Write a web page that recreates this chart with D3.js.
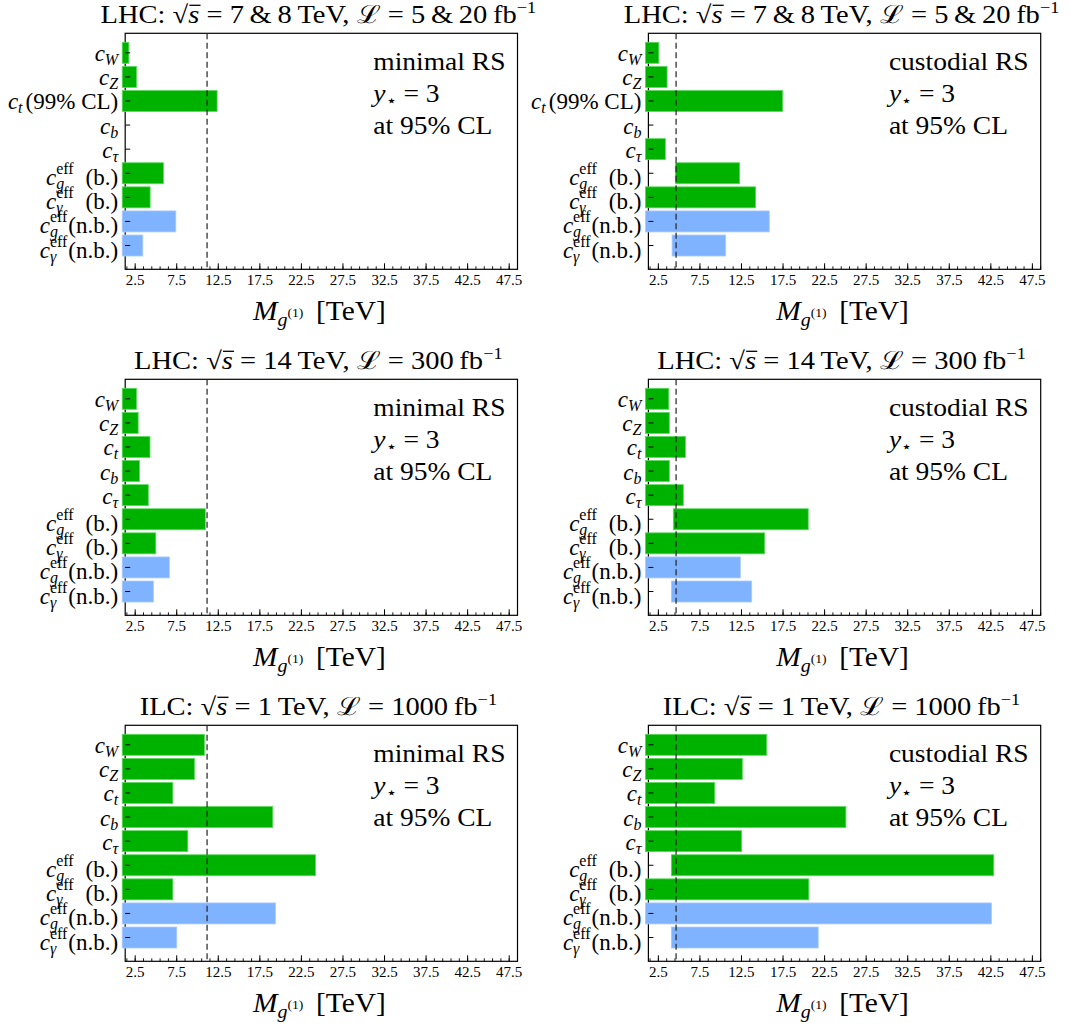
<!DOCTYPE html>
<html>
<head>
<meta charset="utf-8">
<script src="https://cdn.jsdelivr.net/npm/d3@7"></script>
<style>
  html, body { margin: 0; padding: 0; background: #fff; }
  svg { display: block; }
  text { font-family: "Liberation Serif", serif; fill: #000; white-space: pre; }
</style>
</head>
<body>
<svg id="chart" width="1069" height="1024"></svg>
<script>
// Coupling categories, top to bottom
const categories = ["cW", "cZ", "ct", "cb", "ctau", "cg_b", "cgamma_b", "cg_nb", "cgamma_nb"];
// true = bound with boundary terms (green), false = without (blue)
const boundaryTerms = [true, true, true, true, true, true, true, false, false];

// Axis ticks (TeV)
const majorTicks = [2.5, 7.5, 12.5, 17.5, 22.5, 27.5, 32.5, 37.5, 42.5, 47.5];
const minorTicks = d3.range(1.5, 48.6, 1);
const xDomain = [1.3, 48.5];
const barBase = 0.94;

// Reference lines: current direct bound on the KK gluon mass
const refMinimal = 11.15;
const refCustodial = 4.63;

// Reach in M_g(1) [TeV]; null = no sensitivity. lo = null means the bar starts at the base.
const lhc78MinimalHi   = [1.74, 2.66, 12.36, null, null, 5.90, 4.30, 7.39, 3.42];
const lhc78MinimalLo   = [null, null, null, null, null, null, null, null, null];
const lhc78CustodialHi = [2.55, 3.55, 17.45, null, 3.34, 12.28, 14.20, 15.84, 10.60];
const lhc78CustodialLo = [null, null, null, null, null, 4.54, null, null, 4.15];

const lhc14MinimalHi   = [2.66, 2.86, 4.28, 3.02, 4.08, 10.94, 4.98, 6.61, 4.69];
const lhc14MinimalLo   = [null, null, null, null, null, null, null, null, null];
const lhc14CustodialHi = [3.75, 3.82, 5.75, 3.82, 5.50, 20.53, 15.29, 12.36, 13.73];
const lhc14CustodialLo = [null, null, null, null, null, 4.30, null, null, 4.06];

const ilcMinimalHi     = [10.83, 9.63, 7.03, 19.05, 8.83, 24.20, 7.03, 19.37, 7.50];
const ilcMinimalLo     = [null, null, null, null, null, null, null, null, null];
const ilcCustodialHi   = [15.53, 12.60, 9.28, 25.06, 12.52, 42.85, 20.60, 42.57, 21.73];
const ilcCustodialLo   = [null, null, null, null, null, 4.06, null, null, 4.06];

const titles78 = { energy: "7\u2009&\u20098", lumi: "5\u2009&\u200920", collider: "LHC" };
const titles14 = { energy: "14", lumi: "300", collider: "LHC" };
const titlesIlc = { energy: "1", lumi: "1000", collider: "ILC" };

const panels = [
  { row: 0, col: 0, t: titles78, hi: lhc78MinimalHi, lo: lhc78MinimalLo, ref: refMinimal, model: "minimal RS", ct99: true },
  { row: 0, col: 1, t: titles78, hi: lhc78CustodialHi, lo: lhc78CustodialLo, ref: refCustodial, model: "custodial RS", ct99: true },
  { row: 1, col: 0, t: titles14, hi: lhc14MinimalHi, lo: lhc14MinimalLo, ref: refMinimal, model: "minimal RS", ct99: false },
  { row: 1, col: 1, t: titles14, hi: lhc14CustodialHi, lo: lhc14CustodialLo, ref: refCustodial, model: "custodial RS", ct99: false },
  { row: 2, col: 0, t: titlesIlc, hi: ilcMinimalHi, lo: ilcMinimalLo, ref: refMinimal, model: "minimal RS", ct99: false },
  { row: 2, col: 1, t: titlesIlc, hi: ilcCustodialHi, lo: ilcCustodialLo, ref: refCustodial, model: "custodial RS", ct99: false }
];

const GREEN = "#00b200", GREEN_EDGE = "#5ed85e";
const BLUE = "#80b3ff", BLUE_EDGE = "#a9cbff";
const FONT = "Liberation Serif";

const frameW = 392.3, frameH = 236;
const frameX = [125.2, 648.4];
const frameY = [33.3, 379.3, 725.3];

const svg = d3.select("#chart");

// Lays out a run of text pieces left to right (with sub/superscripts),
// stretched horizontally by k, then anchored at x.
function rich(parent, pieces, x, y, anchor, k) {
  k = k || 1;
  const g = parent.append("g");
  let cx = 0, prevStart = 0, prevW = 0;
  const lines = [];
  pieces.forEach(p => {
    if (p.gap) { cx += p.gap; }
    if (p.t === undefined) return;
    let start = p.stack ? prevStart : cx;
    const t = g.append("text")
      .attr("x", start)
      .attr("y", p.dy || 0)
      .attr("font-family", FONT)
      .style("font-size", (p.size || 22) + "px")
      .style("font-style", p.it ? "italic" : "normal")
      .text(p.t);
    const w = t.node().getComputedTextLength();
    if (p.over) lines.push({ x1: start + 1, x2: start + w + 1, y: (p.dy || 0) - p.over });
    if (p.stack) {
      cx = prevStart + Math.max(prevW, w);
    } else {
      prevStart = start; prevW = w; cx = start + w;
    }
  });
  lines.forEach(l => g.append("line").attr("x1", l.x1).attr("x2", l.x2)
    .attr("y1", l.y).attr("y2", l.y).attr("stroke", "#000").attr("stroke-width", 1.3));
  const width = cx * k;
  const off = anchor === "end" ? -width : anchor === "middle" ? -width / 2 : 0;
  g.attr("transform", `translate(${x + off},${y}) scale(${k},1)`);
  return width;
}

function labelPieces(cat, ct99) {
  const S = 23, s = 16;
  const c = { t: "c", it: 1, size: S };
  const sub = (t) => ({ t, it: 1, size: s, dy: 4 });
  const eff = { t: "eff", size: s, dy: -11, stack: 1 };
  switch (cat) {
    case "cW": return [c, sub("W")];
    case "cZ": return [c, sub("Z")];
    case "ct": return ct99 ? [c, sub("t"), { gap: 3 }, { t: "(99% CL)", size: S }] : [c, sub("t")];
    case "cb": return [c, sub("b")];
    case "ctau": return [c, sub("\u03c4")];
    case "cg_b": return [c, sub("g"), eff, { gap: 12 }, { t: "(b.)", size: S }];
    case "cgamma_b": return [c, sub("\u03b3"), eff, { gap: 12 }, { t: "(b.)", size: S }];
    case "cg_nb": return [c, sub("g"), eff, { gap: 1 }, { t: "(n.b.)", size: S }];
    case "cgamma_nb": return [c, sub("\u03b3"), eff, { gap: 1 }, { t: "(n.b.)", size: S }];
  }
}

panels.forEach(p => {
  const L = frameX[p.col], T = frameY[p.row];
  const R = L + frameW, B = T + frameH;
  const g = svg.append("g");

  const x = d3.scaleLinear().domain(xDomain).range([L, R]);
  const y = d3.scaleBand().domain(categories)
    .range([T + 9 - 1.545, T + 9 - 1.545 + 9 * 24.09])
    .paddingInner(0.128).paddingOuter(0.064);

  // frame
  g.append("rect").attr("x", L).attr("y", T).attr("width", frameW).attr("height", frameH)
    .attr("fill", "none").attr("stroke", "#000").attr("stroke-width", 1.2);

  // bars
  const rows = categories.map((c, i) => ({ c, i, hi: p.hi[i], lo: p.lo[i] === null ? barBase : p.lo[i] }))
    .filter(d => d.hi !== null);
  g.selectAll("rect.bar").data(rows).join("rect").attr("class", "bar")
    .attr("x", d => x(d.lo))
    .attr("y", d => y(d.c))
    .attr("width", d => x(d.hi) - x(d.lo))
    .attr("height", y.bandwidth())
    .attr("fill", d => boundaryTerms[d.i] ? GREEN : BLUE)
    .attr("stroke", d => boundaryTerms[d.i] ? GREEN_EDGE : BLUE_EDGE)
    .attr("stroke-width", 0.8);

  // left ticks (inside)
  g.selectAll("line.yt").data(categories).join("line").attr("class", "yt")
    .attr("x1", L).attr("x2", L + 5)
    .attr("y1", d => y(d) + y.bandwidth() / 2).attr("y2", d => y(d) + y.bandwidth() / 2)
    .attr("stroke", "#000").attr("stroke-width", 1);

  // bottom ticks (inside)
  g.selectAll("line.mi").data(minorTicks).join("line").attr("class", "mi")
    .attr("x1", d => x(d)).attr("x2", d => x(d)).attr("y1", B).attr("y2", B - 3)
    .attr("stroke", "#000").attr("stroke-width", 0.9);
  g.selectAll("line.ma").data(majorTicks).join("line").attr("class", "ma")
    .attr("x1", d => x(d)).attr("x2", d => x(d)).attr("y1", B).attr("y2", B - 6)
    .attr("stroke", "#000").attr("stroke-width", 1);
  g.selectAll("text.tl").data(majorTicks).join("text").attr("class", "tl")
    .attr("x", d => x(d)).attr("y", B + 16)
    .attr("font-family", FONT)
    .attr("text-anchor", "middle").style("font-size", "15px")
    .text(d => d3.format(".1f")(d));

  // reference bound
  g.append("line").attr("x1", x(p.ref)).attr("x2", x(p.ref)).attr("y1", T).attr("y2", B)
    .attr("stroke", "#222").attr("stroke-width", 1.2).attr("stroke-dasharray", "6,3.5");

  // category labels
  categories.forEach(c => {
    const cy = y(c) + y.bandwidth() / 2;
    const eff = c.indexOf("_") > 0;
    rich(g, labelPieces(c, p.ct99), L - 7, cy + (eff ? 12 : 8.5), "end", 1.0);
  });

  // model annotation
  const ann = g.append("g");
  const AK = 1.1;
  const lines = [
    [{ t: p.model, size: 25 }],
    [{ t: "y", it: 1, size: 25 }, { t: "\u22c6", size: 16, dy: 4 }, { t: " = 3", size: 25 }],
    [{ t: "at 95% CL", size: 25 }]
  ];
  const probe = svg.append("text").attr("font-family", FONT).style("font-size", "25px").text(p.model);
  const wMax = probe.node().getComputedTextLength() * AK;
  probe.remove();
  lines.forEach((ln, i) => rich(ann, ln, R - 12 - wMax, T + 37 + 32 * i, "start", AK));

  // panel title
  rich(g, [
    { t: p.t.collider + ": ", size: 25 },
    { t: "\u221a", size: 25 },
    { t: "s", it: 1, size: 25, over: 18 },
    { t: " = " + p.t.energy + "\u2009TeV, ", size: 25 },
    { t: "\u2112", size: 25 },
    { t: " = " + p.t.lumi + "\u2009fb", size: 25 },
    { t: "\u22121", size: 16, dy: -10 }
  ], (L + R) / 2 - 3, T - 10, "middle", 1.14);

  // axis title
  rich(g, [
    { t: "M", it: 1, size: 28 },
    { t: "g", it: 1, size: 19, dy: 6 },
    { t: "(1)", size: 13, dy: -3 },
    { gap: 12 },
    { t: "[TeV]", size: 28 }
  ], (L + R) / 2 - 2, B + 51, "middle", 1.05);
});
</script>
</body>
</html>
